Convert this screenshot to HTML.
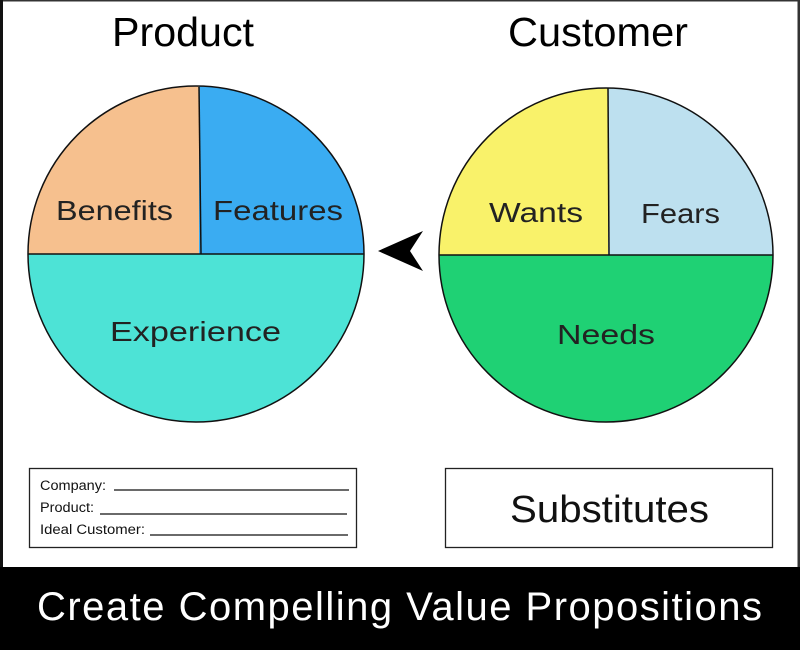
<!DOCTYPE html>
<html><head><style>html,body{margin:0;padding:0;background:#fff}svg{display:block}</style></head>
<body>
<svg width="800" height="650" xmlns="http://www.w3.org/2000/svg" font-family="Liberation Sans, sans-serif">
<rect x="0" y="0" width="800" height="650" fill="#fff"/>
<rect x="0" y="0" width="800" height="1.5" fill="#333"/>
<rect x="0" y="0" width="3" height="650" fill="#111"/>
<rect x="797.5" y="0" width="2.5" height="650" fill="#333"/>
<rect x="0" y="567" width="800" height="83" fill="#000"/>
<text x="112" y="46" font-size="41" textLength="142" lengthAdjust="spacingAndGlyphs">Product</text>
<text x="508" y="46" font-size="41" textLength="180" lengthAdjust="spacingAndGlyphs">Customer</text>
<!-- left circle -->
<path d="M28 254 A168 168 0 0 0 364 254 Z" fill="#4de3d6"/>
<path d="M199 254 L199 86.1 A168 168 0 0 0 28 254 Z" fill="#f6c08e"/>
<path d="M199 254 L199 86.1 A168 168 0 0 1 364 254 Z" fill="#3aacf2"/>
<circle cx="196" cy="254" r="168" fill="none" stroke="#111" stroke-width="1.5"/>
<line x1="28" y1="254" x2="364" y2="254" stroke="#111" stroke-width="1.5"/>
<line x1="199" y1="87" x2="201" y2="254" stroke="#111" stroke-width="1.5"/>
<text x="56" y="220" font-size="28" fill="#222" textLength="117" lengthAdjust="spacingAndGlyphs">Benefits</text>
<text x="213" y="220" font-size="28" fill="#222" textLength="130" lengthAdjust="spacingAndGlyphs">Features</text>
<text x="110" y="341" font-size="28" fill="#222" textLength="171" lengthAdjust="spacingAndGlyphs">Experience</text>
<!-- right circle -->
<path d="M439 255 A167 167 0 0 0 773 255 Z" fill="#1fd174"/>
<path d="M608 255 L608 88 A167 167 0 0 0 439 255 Z" fill="#f9f26a"/>
<path d="M608 255 L608 88 A167 167 0 0 1 773 255 Z" fill="#bde0ef"/>
<circle cx="606" cy="255" r="167" fill="none" stroke="#111" stroke-width="1.5"/>
<line x1="439" y1="255" x2="773" y2="255" stroke="#111" stroke-width="1.5"/>
<line x1="608" y1="88" x2="609" y2="255" stroke="#111" stroke-width="1.5"/>
<text x="489" y="222" font-size="28" fill="#222" textLength="94" lengthAdjust="spacingAndGlyphs">Wants</text>
<text x="641" y="223" font-size="28" fill="#222" textLength="79" lengthAdjust="spacingAndGlyphs">Fears</text>
<text x="557" y="344" font-size="28" fill="#222" textLength="98" lengthAdjust="spacingAndGlyphs">Needs</text>
<!-- arrow -->
<path d="M378 251 L423 231 L410 251 L423 271 Z" fill="#000"/>
<!-- boxes -->
<rect x="29.5" y="468.5" width="327" height="79" fill="#fff" stroke="#222" stroke-width="1.3"/>
<text x="40" y="490" font-size="13.5" fill="#111" textLength="66" lengthAdjust="spacingAndGlyphs">Company:</text>
<line x1="114" y1="490" x2="349" y2="490" stroke="#111" stroke-width="1.3"/>
<text x="40" y="512" font-size="13.5" fill="#111" textLength="54" lengthAdjust="spacingAndGlyphs">Product:</text>
<line x1="100" y1="514" x2="347" y2="514" stroke="#111" stroke-width="1.3"/>
<text x="40" y="534" font-size="13.5" fill="#111" textLength="105" lengthAdjust="spacingAndGlyphs">Ideal Customer:</text>
<line x1="150" y1="535" x2="348" y2="535" stroke="#111" stroke-width="1.3"/>
<rect x="445.5" y="468.5" width="327" height="79" fill="#fff" stroke="#222" stroke-width="1.3"/>
<text x="510" y="522" font-size="38" fill="#111" textLength="199" lengthAdjust="spacingAndGlyphs">Substitutes</text>
<text x="37" y="620" font-size="40" fill="#fff" textLength="725" lengthAdjust="spacing">Create Compelling Value Propositions</text>
</svg>
</body></html>
